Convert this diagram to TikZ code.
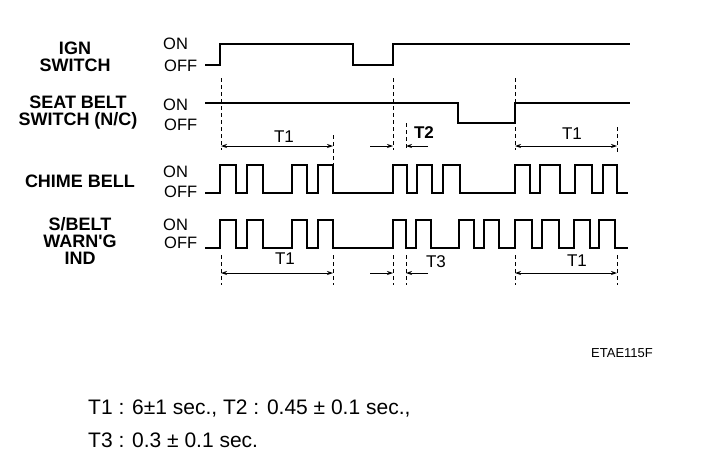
\documentclass[tikz,border=0pt]{standalone}
\usepackage{fontspec}
\setmainfont{Liberation Sans}
\usetikzlibrary{arrows.meta}
\begin{document}
\begin{tikzpicture}[x=1pt,y=-1pt,
  sig/.style={line width=1.6pt, line join=miter},
  lbl/.style={font=\fontsize{18}{17}\selectfont\bfseries, align=center, inner sep=0pt},
  lvl/.style={font=\fontsize{16.5}{16}\selectfont, anchor=west, inner sep=0pt},
  tlbl/.style={font=\fontsize{17}{17}\selectfont, inner sep=0pt},
  guide/.style={line width=0.7pt, dash pattern=on 4pt off 3pt},
  dim/.style={line width=0.8pt, {Stealth[length=6pt,width=4pt]}-{Stealth[length=6pt,width=4pt]}},
  half/.style={line width=0.8pt, -{Stealth[length=6pt,width=4pt]}},
  note/.style={font=\fontsize{21}{33}\selectfont, anchor=north west, align=left, inner sep=0pt}]
\useasboundingbox (0,0) rectangle (704,474);
\fill[white] (0,0) rectangle (704,474);

% signal labels
\node[lbl] (ign) at (75,57) {IGN\\SWITCH};
\node[lbl] (seat) at (78,113) {SEAT BELT\\SWITCH (N/C)};
\node[lbl] (chime) at (80,181) {CHIME BELL};
\node[lbl] (warn) at (80,241) {S/BELT\\WARN\textquotesingle G\\IND};

% ON / OFF
\node[lvl] (on1) at (163,44) {ON};
\node[lvl] (off1) at (164,66) {OFF};
\node[lvl] (on2) at (163,105) {ON};
\node[lvl] (off2) at (164,125) {OFF};
\node[lvl] (on3) at (163,172) {ON};
\node[lvl] (off3) at (164,192) {OFF};
\node[lvl] (on4) at (163,225) {ON};
\node[lvl] (off4) at (164,243) {OFF};

% IGN switch
\draw[sig] (205,65) -- (220,65) -- (220,44) -- (353,44) -- (353,65) -- (393,65) -- (393,44) -- (630,44);
% seat belt switch
\draw[sig] (205,103) -- (458,103) -- (458,123) -- (515,123) -- (515,103) -- (630,103);
% chime bell
\draw[sig] (205,193) foreach \a/\b in {220/236,247/263,292/307,318/333,393/407,417/432,443/460,515/530,540/560,575/592,603/617}
  { -- (\a,193) -- (\a,165) -- (\b,165) -- (\b,193) } -- (628,193);
% warning indicator
\draw[sig] (205,248) foreach \a/\b in {220/236,247/263,292/307,318/333,393/406,416/431,459/474,484/499,515/532,542/559,574/590,599/615}
  { -- (\a,248) -- (\a,220) -- (\b,220) -- (\b,248) } -- (628,248);

% guide lines (upper)
\draw[guide] (221,78) -- (221,150);
\draw[guide] (333,135) -- (333,193);
\draw[guide] (393,78) -- (393,150);
\draw[guide] (406,123) -- (406,150);
\draw[guide] (515,78) -- (515,150);
\draw[guide] (617,127) -- (617,153);
% guide lines (lower)
\draw[guide] (221,255) -- (221,285);
\draw[guide] (333,255) -- (333,285);
\draw[guide] (393,255) -- (393,285);
\draw[guide] (406,255) -- (406,285);
\draw[guide] (515,255) -- (515,285);
\draw[guide] (617,255) -- (617,285);

% dimension arrows and labels (upper)
\coordinate (a1) at (221,146); \coordinate (b1) at (333,146);
\draw[dim] (a1) -- (b1);
\node[tlbl] (t1a) at (284,137) {T1};
\coordinate (c1) at (370,146); \coordinate (c2) at (393,146);
\coordinate (c3) at (428,146); \coordinate (c4) at (406,146);
\draw[half] (c1) -- (c2);
\draw[half] (c3) -- (c4);
\node[tlbl, font=\fontsize{17}{17}\selectfont\bfseries] (t2) at (424,133) {T2};
\coordinate (a2) at (515,146); \coordinate (b2) at (617,146);
\draw[dim] (a2) -- (b2);
\node[tlbl] (t1b) at (572,134) {T1};

% dimension arrows and labels (lower)
\coordinate (a3) at (221,273); \coordinate (b3) at (333,273);
\draw[dim] (a3) -- (b3);
\node[tlbl] (t1c) at (285,259) {T1};
\coordinate (d1) at (370,273); \coordinate (d2) at (393,273);
\coordinate (d3) at (428,273); \coordinate (d4) at (406,273);
\draw[half] (d1) -- (d2);
\draw[half] (d3) -- (d4);
\node[tlbl] (t3) at (436,262) {T3};
\coordinate (a4) at (515,273); \coordinate (b4) at (617,273);
\draw[dim] (a4) -- (b4);
\node[tlbl] (t1d) at (577,261) {T1};

% figure code
\node[font=\fontsize{13}{13}\selectfont, inner sep=0pt] (code) at (622,353) {ETAE115F};

% notes
\node[note] (notes) at (88,400) {T1 : 6±1 sec., T2 : 0.45 ± 0.1 sec.,\\T3 : 0.3 ± 0.1 sec.};
\end{tikzpicture}
\end{document}
